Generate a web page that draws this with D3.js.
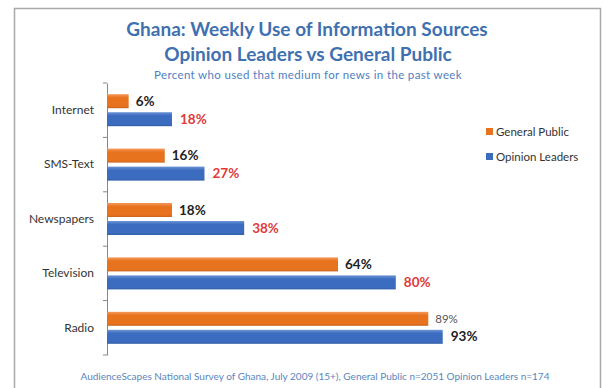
<!DOCTYPE html>
<html lang="en">
<head>
<meta charset="utf-8">
<title>Ghana media use</title>
<script src="https://d3js.org/d3.v7.min.js"></script>
<style>
  body { margin: 0; background: #fff; }
  svg { display: block; font-family: Lato, "Open Sans", sans-serif; }
</style>
</head>
<body>
<script>
var categories = ["Internet", "SMS-Text", "Newspapers", "Television", "Radio"];
var generalPublic = [6, 16, 18, 64, 89];
var opinionLeaders = [18, 27, 38, 80, 93];
var seriesNames = ["General Public", "Opinion Leaders"];

var width = 608, height = 388;
var orange = "#e8731f", blue = "#3b6cbf";

var svg = d3.select("body").append("svg")
    .attr("width", width)
    .attr("height", height);

// frame
svg.append("rect")
    .attr("x", 14.5).attr("y", 8.5)
    .attr("width", 586).attr("height", 400)
    .attr("fill", "#fff")
    .attr("stroke", "#a9a9a9")
    .attr("stroke-width", 1.5);

// gradients for the slightly shaded bars
var defs = svg.append("defs");
[["gOrange", orange, "#f39a5a"], ["gBlue", blue, "#6d94d6"]].forEach(function(g) {
    var lg = defs.append("linearGradient").attr("id", g[0])
        .attr("x1", 0).attr("x2", 0).attr("y1", 0).attr("y2", 1);
    lg.append("stop").attr("offset", "0%").attr("stop-color", g[2]);
    lg.append("stop").attr("offset", "25%").attr("stop-color", g[1]);
    lg.append("stop").attr("offset", "85%").attr("stop-color", g[1]);
    lg.append("stop").attr("offset", "100%").attr("stop-color", d3.color(g[1]).darker(0.4));
});

// titles
svg.append("text").attr("x", 307).attr("y", 36)
    .attr("text-anchor", "middle").attr("fill", "#3f70b0")
    .attr("font-size", 19).attr("font-weight", "bold")
    .text("Ghana: Weekly Use of Information Sources");
svg.append("text").attr("x", 308).attr("y", 61)
    .attr("text-anchor", "middle").attr("fill", "#3f70b0")
    .attr("font-size", 19).attr("font-weight", "bold")
    .text("Opinion Leaders vs General Public");
svg.append("text").attr("x", 308).attr("y", 79)
    .attr("text-anchor", "middle").attr("fill", "#5080c0")
    .attr("font-size", 11.5).attr("letter-spacing", 0.35)
    .text("Percent who used that medium for news in the past week");

var x = d3.scaleLinear().domain([0, 100]).range([107, 468]);
var y = d3.scaleBand().domain(categories).range([83, 355]);

// axis
var yAxis = d3.axisLeft(y).tickSize(0).tickPadding(13);
var ax = svg.append("g").attr("transform", "translate(107,0)").call(yAxis);
ax.select(".domain").attr("stroke", "#888");
ax.selectAll("text").attr("font-size", 12).attr("fill", "#333")
    .attr("font-family", "Lato, sans-serif");
// boundary ticks
var bounds = categories.map(function(c) { return y(c); }).concat([355]);
svg.selectAll(".btick").data(bounds).enter().append("line")
    .attr("class", "btick")
    .attr("x1", 103).attr("x2", 107)
    .attr("y1", function(d) { return d; })
    .attr("y2", function(d) { return d; })
    .attr("stroke", "#888");

var barH = 14, gap = 4;
var rows = svg.selectAll(".row").data(categories).enter().append("g");

rows.append("rect")
    .attr("x", x(0))
    .attr("y", function(d) { return y(d) + y.bandwidth() / 2 - barH - gap / 2; })
    .attr("width", function(d, i) { return x(generalPublic[i]) - x(0); })
    .attr("height", barH)
    .attr("fill", "url(#gOrange)");

rows.append("rect")
    .attr("x", x(0))
    .attr("y", function(d) { return y(d) + y.bandwidth() / 2 + gap / 2; })
    .attr("width", function(d, i) { return x(opinionLeaders[i]) - x(0); })
    .attr("height", barH)
    .attr("fill", "url(#gBlue)");

rows.append("text")
    .attr("x", function(d, i) { return x(generalPublic[i]) + 7; })
    .attr("y", function(d) { return y(d) + y.bandwidth() / 2 - gap / 2 - barH / 2 + 4.5; })
    .attr("font-size", function(d, i) { return i == 4 ? 11.5 : 13.5; })
    .attr("font-weight", function(d, i) { return i == 4 ? "normal" : "bold"; })
    .attr("fill", function(d, i) { return i == 4 ? "#555" : "#222"; })
    .text(function(d, i) { return generalPublic[i] + "%"; });

rows.append("text")
    .attr("x", function(d, i) { return x(opinionLeaders[i]) + 8; })
    .attr("y", function(d) { return y(d) + y.bandwidth() / 2 + gap / 2 + barH / 2 + 4.5; })
    .attr("font-size", 13.5)
    .attr("font-weight", "bold")
    .attr("fill", function(d, i) { return i == 4 ? "#222" : "#e03a3a"; })
    .text(function(d, i) { return opinionLeaders[i] + "%"; });

// legend
var legend = svg.selectAll(".leg").data(seriesNames).enter().append("g")
    .attr("transform", function(d, i) { return "translate(486," + (128 + i * 25) + ")"; });
legend.append("rect").attr("width", 7).attr("height", 7)
    .attr("fill", function(d, i) { return i == 0 ? orange : blue; });
legend.append("text").attr("x", 10).attr("y", 7.5)
    .attr("font-size", 11.5).attr("fill", "#333")
    .text(function(d) { return d; });

// source
svg.append("text").attr("x", 315).attr("y", 380)
    .attr("text-anchor", "middle").attr("fill", "#5a86c0")
    .attr("font-size", 10)
    .text("AudienceScapes National Survey of Ghana, July 2009 (15+), General Public n=2051 Opinion Leaders n=174");
</script>
</body>
</html>
